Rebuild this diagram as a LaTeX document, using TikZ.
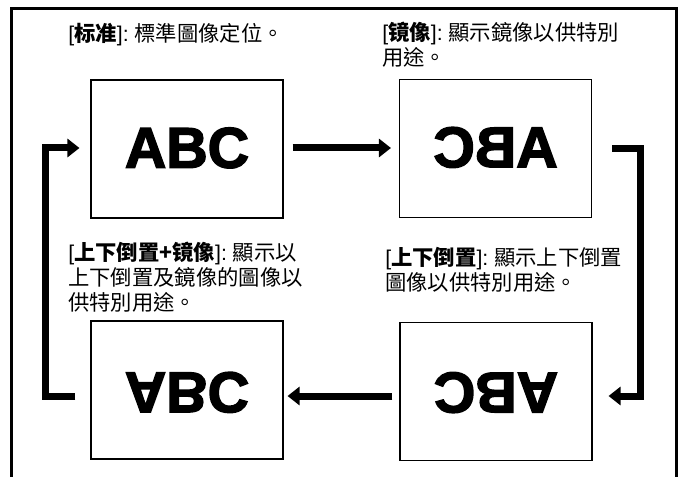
\documentclass[tikz,border=0pt]{standalone}
\usepackage{graphicx}
\usepackage{fontspec}
\setmainfont{Liberation Sans}
\newfontfamily\cjktc{Noto Sans CJK TC}
\newfontfamily\cjksc{Noto Sans CJK SC}
\newfontfamily\abcfont{Liberation Sans}[BoldFeatures={FakeBold=2.6}]
\usetikzlibrary{arrows.meta, positioning, calc}
\newcommand\modetag[1]{[{\cjksc\bfseries #1}]:\ }
\newcommand\abc{{\abcfont\bfseries\fontsize{43}{43}\selectfont ABC}}

\begin{document}
\begin{tikzpicture}[
      x=0.75pt, y=-0.75pt,
      imgbox/.style={draw, line width=0.8pt, minimum width=144pt, minimum height=103.5pt,
                     inner sep=0pt},
      note/.style={anchor=north west, inner sep=0pt, align=left,
                   font=\fontsize{16}{18.5}\selectfont},
      flow/.style={line width=5.25pt, line join=miter,
                   -{Triangle[length=9pt, width=13.5pt]}},
      frame/.style={line width=2.25pt, line join=miter}
    ]
    \useasboundingbox (0,0) rectangle (684,477);

    % outer frame, open at the bottom
    \draw[frame] (11.5,477) -- (11.5,8.5) -- (676.5,8.5) -- (676.5,477);

    % the four orientations
    \node[imgbox] (std)     at (187,149)     {\raisebox{2pt}{\abc}};
    \node[imgbox] (mir)     at (495.5,148.5) {\raisebox{2pt}{\scalebox{-1}[1]{\abc}}};
    \node[imgbox] (flipmir) at (187,390)     {\raisebox{-4pt}{\scalebox{1}[-1]{\abc}}};
    \node[imgbox] (flip)    at (496,391.5)   {\raisebox{-2pt}{\rotatebox{180}{\abc}}};

    % captions
    \node[note] (stdnote) at (68,23)
      {\modetag{标准}{\cjktc 標準圖像定位。}};
    \node[note] (mirnote) at (382,22)
      {\modetag{镜像}{\cjktc 顯示鏡像以供特別}\\{\cjktc 用途。}};
    \node[note] (flipmirnote) at (68,242)
      {\modetag{上下倒置+镜像}{\cjktc 顯示以}\\{\cjktc 上下倒置及鏡像的圖像以}\\{\cjktc 供特別用途。}};
    \node[note] (flipnote) at (385,247)
      {\modetag{上下倒置}{\cjktc 顯示上下倒置}\\{\cjktc 圖像以供特別用途。}};

    % cycle arrows
    \coordinate (rturn) at ($(mir.east)+(48,0)$);
    \coordinate (lturn) at ($(flipmir.west)+(-44.5,6)$);

    \draw[flow] ($(std.east)+(9,-1)$) -- ($(mir.west)+(-8,-0.5)$);
    \draw[flow] ($(mir.east)+(20,0)$) -- (rturn) |- ($(flip.east)+(16,4.5)$);
    \draw[flow] ($(flip.west)+(-7,4.5)$) -- ($(flipmir.east)+(4,6)$);
    \draw[flow] ($(flipmir.west)+(-15,6)$) -- (lturn) |- ($(std.west)+(-11,-1)$);

  \end{tikzpicture}
\end{document}
